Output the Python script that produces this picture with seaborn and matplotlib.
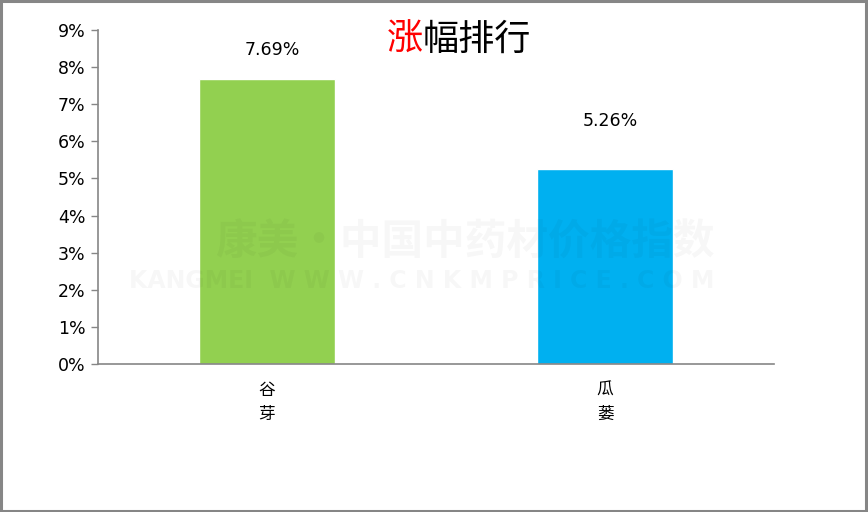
import matplotlib
matplotlib.use("Agg")
import matplotlib.pyplot as plt
import seaborn as sns
import pandas as pd
from matplotlib.patches import Rectangle

# data
categories = ["谷\n芽", "瓜\n蒌"]
values = [7.69, 5.26]
bar_colors = ["#92D050", "#00B0F0"]
label_offsets = [14, 28]
yticks = list(range(0, 10))
title_red = "涨"
title_black = "幅排行"

sns.set_theme(style="white")
plt.rcParams['font.family'] = ['DejaVu Sans', 'Noto Sans CJK SC']

df = pd.DataFrame({"cat": categories, "val": values})

fig = plt.figure(figsize=(8.68, 5.12), dpi=100)
ax = fig.add_axes([98/868, 1-364/512, (774-98)/868, (364-30)/512])

sns.barplot(data=df, x="cat", y="val", hue="cat", palette=bar_colors,
            width=0.4, legend=False, ax=ax, saturation=1)

ax.set_ylim(0, 9)
ax.set_xlim(-0.5, 1.5)
ax.set_yticks(yticks)
ax.set_yticklabels([f"{t}%" for t in yticks], fontsize=12.5, color="black",
                   family=['DejaVu Sans'])
ax.set_xticks(range(len(categories)))
ax.set_xticklabels(categories, fontsize=12, color="black",
                   family=['Noto Sans CJK SC'], linespacing=1.55)
ax.set_xlabel("")
ax.set_ylabel("")

for s in ["top", "right"]:
    ax.spines[s].set_visible(False)
for s in ["left", "bottom"]:
    ax.spines[s].set_color("#868686")
    ax.spines[s].set_linewidth(1.2)
ax.tick_params(axis="y", which="both", left=True, length=5, width=1,
               color="#868686", pad=4)
ax.tick_params(axis="x", bottom=False, pad=7)

for i, (v, off) in enumerate(zip(values, label_offsets)):
    ax.annotate(f"{v:.2f}%", xy=(i, v), xytext=(4, off), textcoords="offset points",
                ha="center", va="bottom", fontsize=12.5, color="black")

# watermark
ax.text(465/868, 1-243/512, "康美·中国中药材价格指数", transform=fig.transFigure,
        ha="center", va="center", fontsize=30, fontweight="bold", color="#000000",
        alpha=0.03, family=['Noto Sans CJK SC'], zorder=5)
ax.text(422/868, 1-281/512, "KANGMEI  W W W . C N K M P R I C E . C O M",
        transform=fig.transFigure, ha="center", va="center", fontsize=17,
        fontweight="bold", color="#000000", alpha=0.03, zorder=5)

# title
fig.text(423/868, 1-40/512, title_red, color="#FF0000", fontsize=26,
         ha="right", va="center", family=['Noto Sans CJK SC'])
fig.text(423/868, 1-40/512, title_black, color="black", fontsize=26,
         ha="left", va="center", family=['Noto Sans CJK SC'])

# figure border
fig.patches.append(Rectangle((0.001, 0.002), 0.997, 0.996, transform=fig.transFigure,
                             fill=False, edgecolor="#868686", linewidth=2.2))

fig.savefig("out.png", dpi=100)
